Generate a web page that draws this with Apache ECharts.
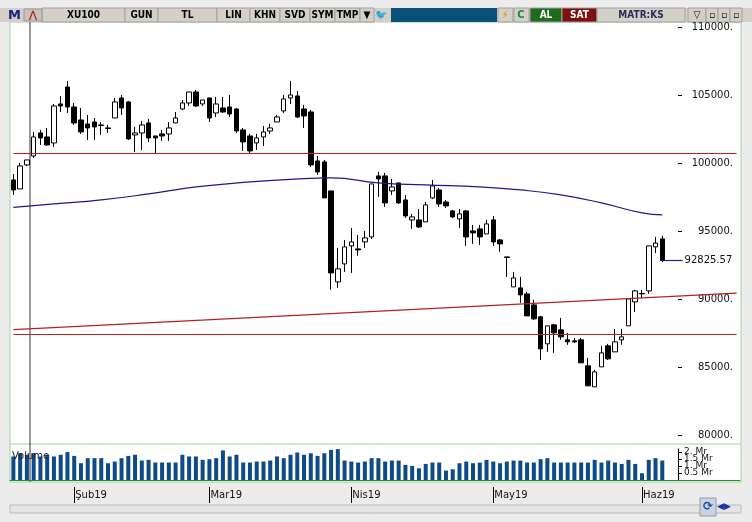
<!DOCTYPE html>
<html><head><meta charset="utf-8">
<script src="https://cdn.jsdelivr.net/npm/echarts@6/dist/echarts.min.js"></script>
<style>html,body{margin:0;padding:0;background:#ececec}#c{width:752px;height:522px}</style>
</head><body><div id="c"></div>
<script>
const opens=[98755,98094,99858,100519,102210,101916,101475,104341,105590,104121,103165,102871,103018,102798,102577,103312,104782,104488,102063,102210,102945,101989,102136,102136,102945,103974,104415,105223,104341,104782,103680,104047,104121,103974,102430,101989,101475,101916,102357,103018,103827,104782,104929,103974,103753,100152,100078,97947,91258,92581,93904,93684,94198,94565,99049,99049,97947,98535,97285,95815,95815,95668,97432,98020,97138,96477,95889,96477,95007,95154,94786,95815,94345,93095,90891,90817,90376,89568,88686,86701,88098,87730,86995,86921,86995,85084,83541,85011,86554,86113,86995,88024,89788,90376,90597,93831,94418];
const closes=[98020,99784,100225,101916,101842,101328,104194,104194,104121,102945,102283,102577,102651,102760,102540,104488,104047,101769,102210,102798,101842,101842,101989,102577,103312,104415,105223,104194,104635,103312,104341,103753,103606,102357,101548,100887,101842,102283,102577,103385,104709,105003,103385,103459,99858,99343,97432,91920,92214,93831,94198,93610,94492,98461,98829,97065,98241,97065,96109,96036,95301,96918,98314,96991,96844,96036,96256,94566,94860,94566,95521,94198,94051,93060,91552,90303,88759,88539,86334,88024,87510,87216,86848,86848,85305,83614,84643,86040,85599,86848,87216,90009,90597,90410,93904,94110,92825.57];
const lows=[97653,98094,99784,100372,101328,101254,101181,103753,103680,102798,102136,101695,101695,102063,102210,103312,103532,101695,100813,100960,101548,100740,101622,101622,102945,103900,104194,104121,104194,103018,103385,103680,103385,102210,100887,100740,100960,101254,102136,103018,103680,104341,103312,102577,99711,99123,97432,90670,90817,91993,91920,93170,93757,94418,97506,96770,97653,96990,95960,95154,95227,95668,97359,96770,96697,95960,95227,93904,94051,93980,94786,93904,93463,91626,90891,89715,88759,88465,85525,86113,86040,86995,86628,86775,85305,83614,83541,85011,85525,86113,86628,88024,89053,90082,90376,93376,92713];
const highs=[99196,100004,100225,102283,102430,102577,104341,104929,106031,104415,104047,103532,103312,103018,102798,104782,105003,104560,102651,103092,103238,101989,102430,103018,103753,104635,105223,105370,104635,104782,104856,104856,105003,104047,102577,102136,102136,102724,102871,103532,105003,106031,105296,104268,103900,100519,100225,97947,93757,94345,95227,94712,95007,98461,99343,99270,98829,98535,97653,96256,96620,97138,98755,98167,97285,96550,96620,96550,95448,95448,95815,96109,94418,93095,91993,91626,90523,89935,88759,88024,88171,88612,87510,87142,87142,85672,84790,86554,86701,87804,87804,90009,90670,90670,93904,94566,94640];
const volumes=[1.67,1.90,1.79,1.90,1.67,1.79,1.67,1.79,1.98,1.71,1.19,1.55,1.55,1.55,1.19,1.31,1.55,1.71,1.79,1.38,1.43,1.24,1.24,1.24,1.24,1.79,1.67,1.67,1.43,1.48,1.55,2.10,1.67,1.79,1.24,1.24,1.31,1.31,1.38,1.67,1.55,1.79,1.95,1.79,1.90,1.71,1.90,2.14,2.19,1.38,1.31,1.24,1.31,1.55,1.55,1.31,1.38,1.38,1.07,1.00,0.83,1.14,1.24,1.24,0.67,0.76,1.19,1.31,1.19,1.24,1.43,1.31,1.19,1.31,1.38,1.38,1.24,1.24,1.48,1.55,1.24,1.24,1.24,1.24,1.24,1.24,1.43,1.24,1.38,1.24,1.14,1.43,1.14,0.48,1.43,1.55,1.38];
// moving average read at selected candles (index -> value)
const maIdx=[0,6,13,20,27,35,42,47,54,61,69,75,81,87,93,96];
const maVal=[96734,96991,97285,97726,98241,98608,98829,98902,98535,98388,98241,98020,97653,97065,96330,96183];
const monthIdx=[9,29,50,71,93];
const monthLabels=['Şub19','Mar19','Nis19','May19','Haz19'];
const resistance=100740, support=87436;
const trendStart=87750, trendEnd=90430;
const lastPrice=92825.57;
const volTicks=['0','0.5 Mr','1. Mr','1.5 Mr','2. Mr'];

const N=108;
const categories=[];for(let i=0;i<N;i++)categories.push(String(i));
const candle=opens.map((o,i)=>[o,closes[i],lows[i],highs[i]]);
const ma=new Array(N).fill(null);maIdx.forEach((k,j)=>ma[k]=maVal[j]);
const vol=volumes.slice();
const monthMap={};monthIdx.forEach((k,j)=>monthMap[k]=monthLabels[j]);

const chart=echarts.init(document.getElementById('c'));
const F='DejaVu Sans';
function btn(x,w,t,fill,col){return [{type:'rect',z:-5,shape:{x:x,y:8,width:w,height:14},style:{fill:fill||'#d4d0c8',stroke:'#a0a0a0',lineWidth:1}},
 {type:'text',z:-4,style:{x:x+w/2,y:15.5,text:t,fill:col||'#000',font:'bold 10px "DejaVu Sans Condensed"',align:'center',verticalAlign:'middle'}}];}
let g=[
 {type:'rect',z:-10,shape:{x:10,y:22,width:731,height:460},style:{fill:'#fff',stroke:'#9ed49e',lineWidth:1}},
 {type:'line',z:-9,shape:{x1:10,y1:444,x2:741,y2:444},style:{stroke:'#9ed49e',lineWidth:1}},
 {type:'rect',z:-9,shape:{x:0,y:8,width:752,height:14},style:{fill:'#d4d0c8'}},
 {type:'rect',z:-8,shape:{x:391,y:8,width:106,height:14},style:{fill:'#0b4f7b'}},
 {type:'text',style:{x:8,y:15.5,text:'M',fill:'#1a237e',font:'bold 13px "DejaVu Sans"',verticalAlign:'middle'}},
 {type:'rect',shape:{x:24,y:9,width:18,height:12},style:{fill:'#c8c4bc',stroke:'#999'}},
 {type:'text',style:{x:33,y:15.5,text:'⋀',fill:'#c02020',font:'bold 10px "DejaVu Sans"',align:'center',verticalAlign:'middle'}},
 {type:'rect',shape:{x:498,y:8,width:15,height:14},style:{fill:'#d4d0c8',stroke:'#a0a0a0'}},
 {type:'text',style:{x:505,y:15.5,text:'⚡',fill:'#e08a00',font:'10px "DejaVu Sans"',align:'center',verticalAlign:'middle'}},
 {type:'rect',shape:{x:514,y:8,width:15,height:14},style:{fill:'#d4d0c8',stroke:'#a0a0a0'}},
 {type:'text',style:{x:521,y:15.5,text:'C',fill:'#1a8a3a',font:'bold 10px "DejaVu Sans"',align:'center',verticalAlign:'middle'}},
 {type:'text',style:{x:381,y:15.5,text:'🐦',fill:'#2a9fd8',font:'10px "DejaVu Sans"',align:'center',verticalAlign:'middle'}},
 {type:'line',shape:{x1:30,y1:22,x2:30,y2:482},style:{stroke:'#333',lineWidth:1}},
 {type:'text',z:10,style:{x:12,y:456,text:'Volume',fill:'#222',font:'10px "DejaVu Sans"',verticalAlign:'middle'}},
 {type:'rect',shape:{x:10,y:505,width:731,height:8},style:{fill:'#e4e4e4',stroke:'#bbb'}},
 {type:'rect',shape:{x:700,y:498,width:16,height:18},style:{fill:'#c8d4e4',stroke:'#999'}},
 {type:'text',style:{x:708,y:507,text:'⟳',fill:'#1f4fa0',font:'bold 12px "DejaVu Sans"',align:'center',verticalAlign:'middle'}},
 {type:'text',style:{x:724,y:507,text:'◀▶',fill:'#1f2fa0',font:'9px "DejaVu Sans"',align:'center',verticalAlign:'middle'}}
];
g=g.concat(btn(42,83,'XU100'),btn(125,33,'GUN'),btn(158,59,'TL'),btn(217,33,'LIN'),btn(250,30,'KHN'),btn(280,30,'SVD'),btn(310,25,'SYM'),btn(335,25,'TMP'),btn(360,14,'▼'),
 btn(530,32,'AL','#1d6b1d','#fff'),btn(562,35,'SAT','#7e1010','#fff'),btn(597,88,'MATR:KS','#d4d0c8','#2a2a5a'),
 btn(688,18,'▽'),btn(706,12,'▫'),btn(718,12,'▫'),btn(730,12,'▫'));

chart.setOption({
 animation:false,
 graphic:g,
 grid:[{left:10,right:12,top:27,height:408},{left:10,right:12,top:449,height:31},{left:10,right:12,top:487,height:16}],
 xAxis:[
  {type:'category',data:categories,gridIndex:0,boundaryGap:true,axisLine:{show:false},axisTick:{show:false},axisLabel:{show:false}},
  {type:'category',data:categories,gridIndex:1,boundaryGap:true,axisLine:{show:true,lineStyle:{color:'#2e8b2e'}},axisTick:{show:false},axisLabel:{show:false}},
  {type:'category',data:categories,gridIndex:2,boundaryGap:true,axisLine:{show:false},
   axisTick:{show:true,inside:true,length:16,alignWithLabel:true,interval:(i)=>monthMap[i]!==undefined,lineStyle:{color:'#000'}},
   axisLabel:{show:true,inside:true,interval:(i)=>monthMap[i]!==undefined,formatter:(v,i)=>monthMap[i]||'',align:'left',margin:3,padding:[0,0,0,1],fontFamily:F,fontSize:10,color:'#111'}}
 ],
 yAxis:[
  {type:'value',gridIndex:0,min:80000,max:110000,interval:5000,position:'right',offset:-62,splitLine:{show:false},
   axisLine:{show:false},axisTick:{show:true,length:4,inside:false,lineStyle:{color:'#000'}},
   axisLabel:{formatter:v=>v+'.',align:'right',margin:55,fontFamily:F,fontSize:10,color:'#111'}},
  {type:'value',gridIndex:1,min:0,max:2.2,interval:0.5,position:'right',offset:-62,splitLine:{show:false},
   axisLine:{show:true,lineStyle:{color:'#000'}},axisTick:{show:true,length:4,lineStyle:{color:'#000'}},
   axisLabel:{formatter:(v)=>volTicks[Math.round(v*2)]||'',margin:6,fontFamily:F,fontSize:9,color:'#111',lineHeight:8}},
  {type:'value',gridIndex:2,show:false,min:0,max:1}
 ],
 series:[
  {type:'candlestick',xAxisIndex:0,yAxisIndex:0,data:candle,barWidth:5,
   itemStyle:{color:'#fff',color0:'#000',borderColor:'#000',borderColor0:'#000',borderWidth:1},
   markLine:{symbol:'none',silent:true,animation:false,label:{show:false},
    data:[
     [{coord:[0,resistance],lineStyle:{color:'#b22222',width:1.2,type:'solid'}},{coord:[N-1,resistance]}],
     [{coord:[0,support],lineStyle:{color:'#b22222',width:1.2,type:'solid'}},{coord:[N-1,support]}],
     [{coord:[0,trendStart],lineStyle:{color:'#b22222',width:1.2,type:'solid'}},{coord:[N-1,trendEnd]}],
     [{coord:[96,lastPrice],lineStyle:{color:'#1a237e',width:1.2,type:'solid'},label:{show:true,position:'end',formatter:'92825.57',fontFamily:F,fontSize:10,color:'#111',distance:2}},{coord:[99,lastPrice]}]
    ]}},
  {type:'line',xAxisIndex:0,yAxisIndex:0,data:ma,connectNulls:true,smooth:true,symbol:'none',lineStyle:{color:'#1a1a8c',width:1.2}},
  {type:'bar',xAxisIndex:1,yAxisIndex:1,data:vol,barWidth:4,itemStyle:{color:'#0d4a8a'}},
  {type:'line',xAxisIndex:2,yAxisIndex:2,data:[],silent:true}
 ]
});
</script></body></html>
